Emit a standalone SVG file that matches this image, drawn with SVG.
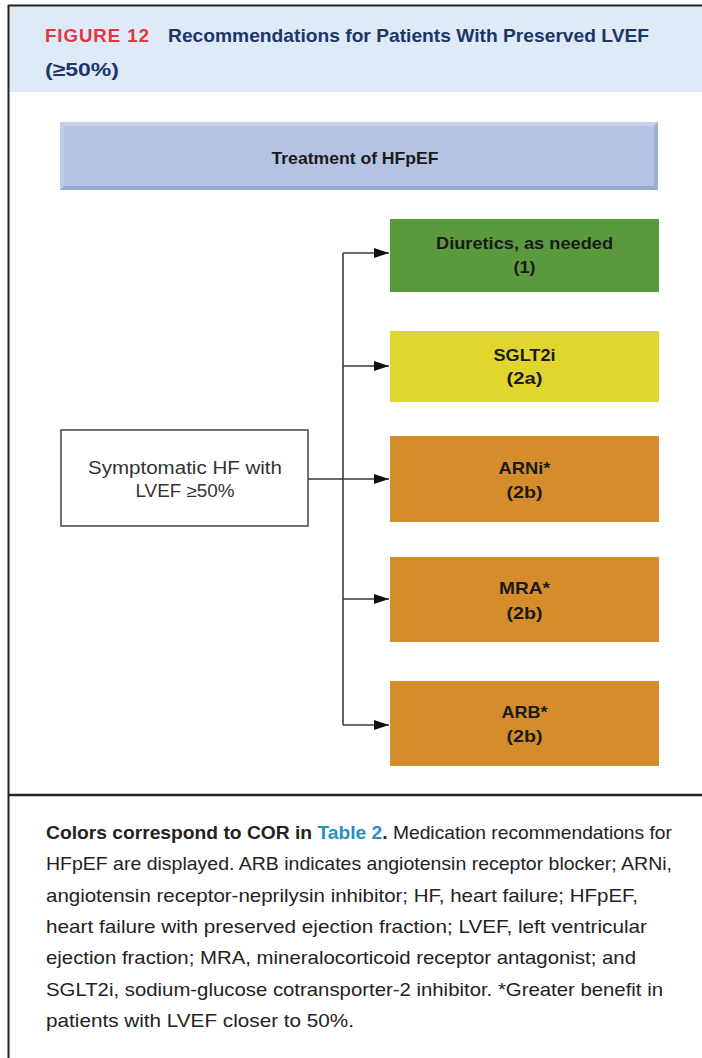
<svg xmlns="http://www.w3.org/2000/svg" width="702" height="1058" viewBox="0 0 702 1058">
<style>
.title{font-family:"Liberation Sans",Arial,sans-serif;font-weight:bold;font-size:19px}
.lbl{font-family:"Liberation Sans",Arial,sans-serif;font-weight:bold;font-size:17px;fill:#1a1a1a;text-anchor:middle}
.reg{font-family:"Liberation Sans",Arial,sans-serif;font-size:17.5px;fill:#333;text-anchor:middle}
.cap{font-family:"Liberation Sans",Arial,sans-serif;font-size:19px;fill:#222}
.conn{stroke:#3a3a3a;stroke-width:1.6;fill:none}
</style>
<defs>
<marker id="arr" markerWidth="16" markerHeight="10" refX="15" refY="5" orient="auto" markerUnits="userSpaceOnUse">
<path d="M0,0 L15,5 L0,10 Z" fill="#111"/>
</marker>
</defs>
<rect x="0" y="0" width="702" height="1058" fill="#fff"/>
<g id="header">
<rect x="9" y="6" width="693" height="86" fill="#deeaf6"/>
<text class="title" x="45" y="42" fill="#e5363c" textLength="105" lengthAdjust="spacingAndGlyphs" letter-spacing="1">FIGURE 12</text>
<text class="title" x="168" y="42" fill="#1d3669" textLength="481" lengthAdjust="spacingAndGlyphs">Recommendations for Patients With Preserved LVEF</text>
<text class="title" x="45" y="76" fill="#1d3669" textLength="74" lengthAdjust="spacingAndGlyphs">(≥50%)</text>
</g>
<g id="frame">
<line x1="8.5" y1="5" x2="8.5" y2="1058" stroke="#222" stroke-width="2"/>
<line x1="8" y1="5.5" x2="702" y2="5.5" stroke="#222" stroke-width="2"/>
<line x1="8" y1="795" x2="702" y2="795" stroke="#222" stroke-width="2.5"/>
</g>
<g id="treatment">
<rect x="60" y="122" width="598" height="68" fill="#b4c3e4"/>
<polygon points="60,122 658,122 654,126 64,126" fill="#c6d2ec"/>
<polygon points="60,122 64,126 64,186 60,190" fill="#bfcbe8"/>
<polygon points="658,122 658,190 654,186 654,126" fill="#9eafd3"/>
<polygon points="60,190 658,190 654,186 64,186" fill="#97a8cd"/>
<text class="lbl" x="355" y="164" font-size="18" textLength="167" lengthAdjust="spacingAndGlyphs">Treatment of HFpEF</text>
</g>
<g id="symptomatic">
<rect x="61" y="430" width="247" height="96" fill="#fff" stroke="#444" stroke-width="1.5"/>
<text class="reg" x="185" y="474" textLength="194" lengthAdjust="spacingAndGlyphs">Symptomatic HF with</text>
<text class="reg" x="185" y="497" textLength="99" lengthAdjust="spacingAndGlyphs">LVEF ≥50%</text>
</g>
<g id="diuretics">
<rect x="390" y="219" width="269" height="73" fill="#5b993e"/>
<text class="lbl" x="524.5" y="249" textLength="177" lengthAdjust="spacingAndGlyphs">Diuretics, as needed</text>
<text class="lbl" x="524.5" y="273" textLength="22" lengthAdjust="spacingAndGlyphs">(1)</text>
</g>
<g id="sglt2i">
<rect x="390" y="331" width="269" height="71" fill="#e1d62e"/>
<text class="lbl" x="524.5" y="361" textLength="62" lengthAdjust="spacingAndGlyphs">SGLT2i</text>
<text class="lbl" x="524.5" y="384" textLength="36" lengthAdjust="spacingAndGlyphs">(2a)</text>
</g>
<g id="arni">
<rect x="390" y="436" width="269" height="86" fill="#d58d2c"/>
<text class="lbl" x="524.5" y="474" textLength="52" lengthAdjust="spacingAndGlyphs">ARNi*</text>
<text class="lbl" x="524.5" y="498" textLength="36" lengthAdjust="spacingAndGlyphs">(2b)</text>
</g>
<g id="mra">
<rect x="390" y="557" width="269" height="85" fill="#d58d2c"/>
<text class="lbl" x="524.5" y="594" textLength="51" lengthAdjust="spacingAndGlyphs">MRA*</text>
<text class="lbl" x="524.5" y="619" textLength="36" lengthAdjust="spacingAndGlyphs">(2b)</text>
</g>
<g id="arb">
<rect x="390" y="681" width="269" height="85" fill="#d58d2c"/>
<text class="lbl" x="524.5" y="718" textLength="46" lengthAdjust="spacingAndGlyphs">ARB*</text>
<text class="lbl" x="524.5" y="742" textLength="36" lengthAdjust="spacingAndGlyphs">(2b)</text>
</g>
<g id="connectors">
<line class="conn" x1="343" y1="253" x2="343" y2="725"/>
<line class="conn" x1="343" y1="253" x2="389" y2="253" marker-end="url(#arr)"/>
<line class="conn" x1="343" y1="366" x2="389" y2="366" marker-end="url(#arr)"/>
<line class="conn" x1="308" y1="479" x2="389" y2="479" marker-end="url(#arr)"/>
<line class="conn" x1="343" y1="599" x2="389" y2="599" marker-end="url(#arr)"/>
<line class="conn" x1="343" y1="725" x2="389" y2="725" marker-end="url(#arr)"/>
</g>
<g id="caption">
<text class="cap" x="46" y="839" textLength="626" lengthAdjust="spacingAndGlyphs"><tspan font-weight="bold">Colors correspond to COR in </tspan><tspan font-weight="bold" fill="#2b8fc0">Table 2</tspan><tspan font-weight="bold">.</tspan> Medication recommendations for</text>
<text class="cap" x="46" y="870" textLength="626" lengthAdjust="spacingAndGlyphs">HFpEF are displayed. ARB indicates angiotensin receptor blocker; ARNi,</text>
<text class="cap" x="46" y="901.5" textLength="592" lengthAdjust="spacingAndGlyphs">angiotensin receptor-neprilysin inhibitor; HF, heart failure; HFpEF,</text>
<text class="cap" x="46" y="933" textLength="601" lengthAdjust="spacingAndGlyphs">heart failure with preserved ejection fraction; LVEF, left ventricular</text>
<text class="cap" x="46" y="964" textLength="590" lengthAdjust="spacingAndGlyphs">ejection fraction; MRA, mineralocorticoid receptor antagonist; and</text>
<text class="cap" x="46" y="995.5" textLength="617" lengthAdjust="spacingAndGlyphs">SGLT2i, sodium-glucose cotransporter-2 inhibitor. *Greater benefit in</text>
<text class="cap" x="46" y="1027" textLength="308" lengthAdjust="spacingAndGlyphs">patients with LVEF closer to 50%.</text>
</g>
</svg>
